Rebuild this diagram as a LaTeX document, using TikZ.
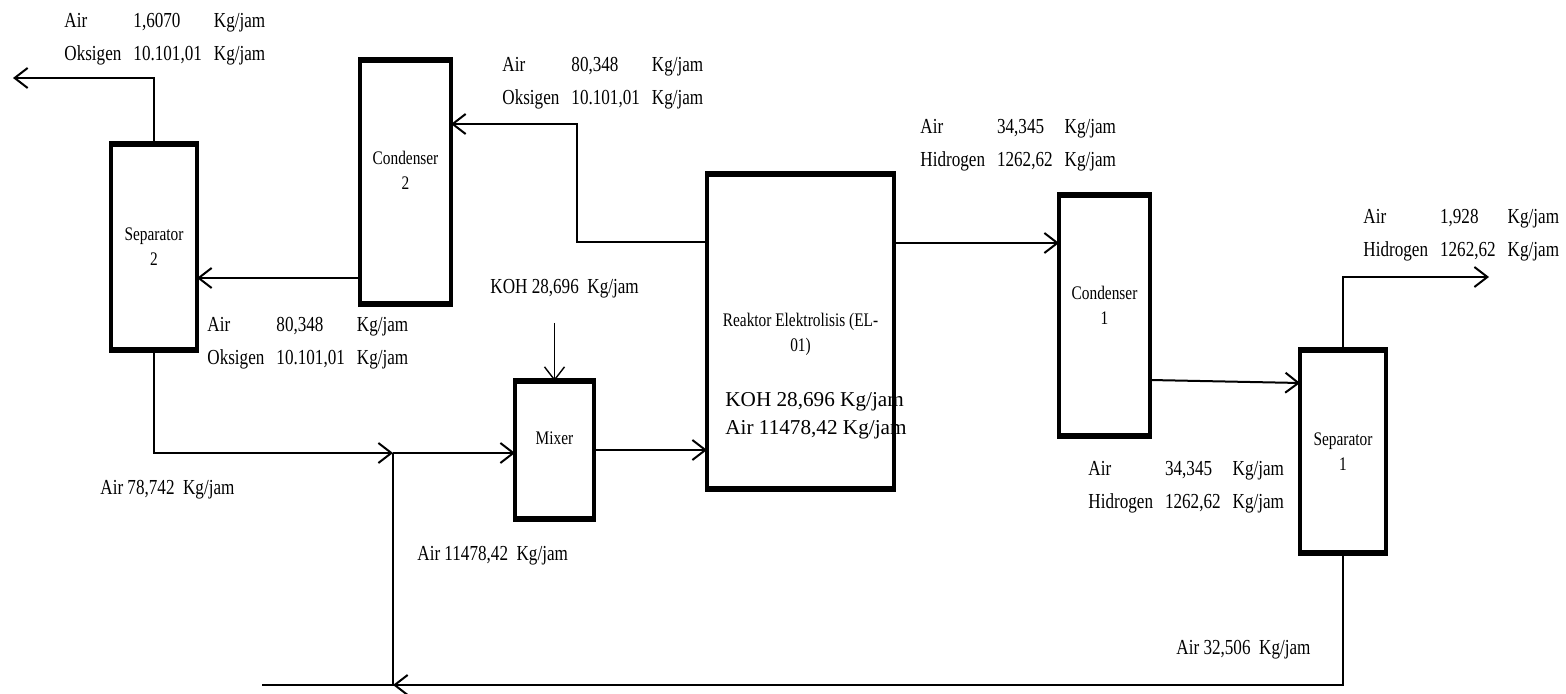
\documentclass[tikz,border=0pt]{standalone}
\usepackage{fontspec}
\setmainfont{Liberation Serif}
\newfontfamily\condfont[FakeStretch=0.8]{Liberation Serif}
\usetikzlibrary{arrows.meta}

\renewcommand{\arraystretch}{1.375}
\newcommand{\flowtab}[6]{\begin{tabular}{@{}l@{\hspace{6pt}}l@{\hspace{6pt}}l@{}}#1 & #2 & #3\\ #4 & #5 & #6\end{tabular}}

\begin{document}
\begin{tikzpicture}[
                    x=0.5pt, y=-0.5pt,
                    block/.style={rectangle, draw, line width=2pt, outer sep=0pt},
                    unitname/.style={font=\condfont\fontsize{9.6}{12.5}\selectfont, align=center},
                    flow/.style={font=\condfont\fontsize{10.7}{12}\selectfont, anchor=west, inner sep=0pt},
                    line/.style={draw, line width=1pt, -{Straight Barb[length=6.5pt, width=10pt]}},
                    pipe/.style={draw, line width=1pt}
                ]
                    \useasboundingbox (0,0) rectangle (1566,694);

                    % Place nodes
                    \node [block, minimum width=43pt, minimum height=103pt, label={[unitname]center:{Separator\\2}}] (sep2) at (154,247) {};
                    \node [block, minimum width=45.5pt, minimum height=122pt, label={[unitname, yshift=6pt]center:{Condenser\\2}}] (con2) at (405.5,182) {};
                    \node [block, minimum width=39.5pt, minimum height=69pt, label={[unitname, yshift=6pt]center:Mixer}] (mix) at (554.5,450) {};
                    \node [block, minimum width=93.5pt, minimum height=157.5pt, label={[unitname, yshift=-1.5pt]center:{Reaktor Elektrolisis (EL-\\01)}}] (rea) at (800.5,331.5) {};
                    \node [block, minimum width=45.5pt, minimum height=120.5pt, label={[unitname, yshift=5pt]center:{Condenser\\1}}] (con1) at (1104.5,315.5) {};
                    \node [block, minimum width=43pt, minimum height=101.5pt, label={[unitname]center:{Separator\\1}}] (sep1) at (1343,451.5) {};

                    % heavier top and bottom edges
                    \foreach \u in {sep2,con2,mix,rea,con1,sep1} {
                        \draw [line width=3pt, shorten <=-1pt, shorten >=-1pt] (\u.north west) -- (\u.north east);
                        \draw [line width=3pt, shorten <=-1pt, shorten >=-1pt] (\u.south west) -- (\u.south east);
                    }

                    % Free ends and junctions
                    \coordinate (o2out) at (13,78);
                    \coordinate (bend) at (577,124);
                    \coordinate (jn) at (393,453);
                    \coordinate (jb) at (393,685);
                    \coordinate (win) at (262,685);
                    \coordinate (kohin) at (554.5,323);
                    \coordinate (o1out) at (1489,277);

                    % Draw edges
                    \path [line] (sep2.north) |- (o2out);
                    \path [line] (con2.west |- 0,278) -- (sep2.east |- 0,278);
                    \path [line] (rea.west |- 0,242) -| (bend) -- (con2.east |- bend);
                    \path [line] (sep2.south) |- (jn);
                    \path [line] (jn) -- (mix.west |- jn);
                    \path [pipe] (win) -- (jb) -- (jn);
                    \path [line] (sep1.south) |- (jb);
                    \path [line] (mix.east) -- (rea.west |- mix.east);
                    \path [line, line width=0.7pt] (kohin) -- (mix.north);
                    \path [line] (rea.east |- 0,243) -- (con1.west |- 0,243);
                    \path [line] (con1.east |- 0,380) -- (sep1.west |- 0,383);
                    \path [line] (sep1.north) |- (o1out);

                    % Stream labels
                    \node [flow] (s2top) at (64,37.5) {\flowtab{Air}{1,6070}{Kg/jam}{Oksigen}{10.101,01}{Kg/jam}};
                    \node [flow] (c2in) at (502,81.5) {\flowtab{Air}{80,348}{Kg/jam}{Oksigen}{10.101,01}{Kg/jam}};
                    \node [flow] (s2in) at (207,341.5) {\flowtab{Air}{80,348}{Kg/jam}{Oksigen}{10.101,01}{Kg/jam}};
                    \node [flow] (c1in) at (920,143.5) {\flowtab{Air}{34,345}{Kg/jam}{Hidrogen}{1262,62}{Kg/jam}};
                    \node [flow] (s1in) at (1088,485) {\flowtab{Air}{34,345}{Kg/jam}{Hidrogen}{1262,62}{Kg/jam}};
                    \node [flow] (s1top) at (1363,233.5) {\flowtab{Air}{1,928}{Kg/jam}{Hidrogen}{1262,62}{Kg/jam}};
                    \node [flow] (kohlab) at (490,289) {KOH 28,696~ Kg/jam};
                    \node [flow] (s2bot) at (100,490) {Air 78,742~ Kg/jam};
                    \node [flow] (mixout) at (417,556) {Air 11478,42~ Kg/jam};
                    \node [flow] (s1bot) at (1176,650) {Air 32,506~ Kg/jam};
                    \node [flow, font=\fontsize{10.6}{14}\selectfont, align=left] (reacomp) at (725,416) {KOH 28,696 Kg/jam\\Air 11478,42 Kg/jam};
            \end{tikzpicture}
\end{document}
